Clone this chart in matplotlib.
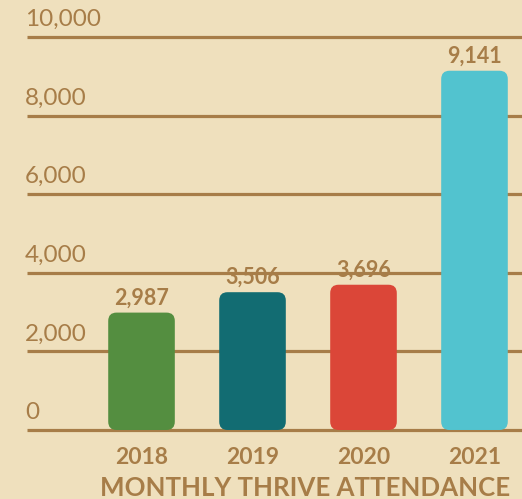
import matplotlib.pyplot as plt
from matplotlib.patches import FancyBboxPatch

years = ["2018", "2019", "2020", "2021"]
attendance = [2987, 3506, 3696, 9141]
bar_colors = ["#548E40", "#126C72", "#DB4638", "#52C3CF"]
grid_values = [0, 2000, 4000, 6000, 8000, 10000]
title = "MONTHLY THRIVE ATTENDANCE"

BG = "#EFE0BD"
BROWN = "#A77D48"

fig = plt.figure(figsize=(5.22, 4.99), dpi=100, facecolor=BG)
ax = fig.add_axes([0, 0, 1, 1])
ax.set_facecolor(BG)
ax.set_xlim(-1.275, 3.428)
ax.set_ylim(-1756, 10941)
ax.axis("off")

# gridlines with labels sitting above them
for v in grid_values:
    ax.hlines(v, -1.03, 3.428, color=BROWN, lw=2.3, zorder=1)
    ax.annotate(f"{v:,}", (-1.05, v), xytext=(0, 5), textcoords="offset points",
                ha="left", va="bottom", fontsize=17.5, color=BROWN,
                family="Lato")

bars = ax.bar(range(len(years)), attendance, width=0.6, color=bar_colors, zorder=2)

# swap the plain bars for rounded ones
px_x = ax.transData.transform((1, 0))[0] - ax.transData.transform((0, 0))[0]
px_y = ax.transData.transform((0, 1000))[1] - ax.transData.transform((0, 0))[1]
aspect = (1000 / px_y) / (1 / px_x)
for b in bars:
    b.set_visible(False)
    patch = FancyBboxPatch((b.get_x(), b.get_y()), b.get_width(), b.get_height(),
                           boxstyle="round,pad=0,rounding_size=0.075",
                           mutation_aspect=aspect, facecolor=b.get_facecolor(),
                           edgecolor="none", zorder=2)
    ax.add_patch(patch)

for i, v in enumerate(attendance):
    ax.annotate(f"{v:,}", (i, v), xytext=(0, 3), textcoords="offset points",
                ha="center", va="bottom", fontsize=15.5, fontweight="bold",
                color=BROWN, family="Lato", zorder=4)
    ax.annotate(years[i], (i, 0), xytext=(0, -12), textcoords="offset points",
                ha="center", va="top", fontsize=16.5, fontweight="bold",
                color=BROWN, family="Lato")

ax.text(-0.37, -1480, title, ha="left", va="center", fontsize=18.6,
        fontweight="bold", color=BROWN, family="Lato")

fig.savefig("out.png", dpi=100, facecolor=BG)
